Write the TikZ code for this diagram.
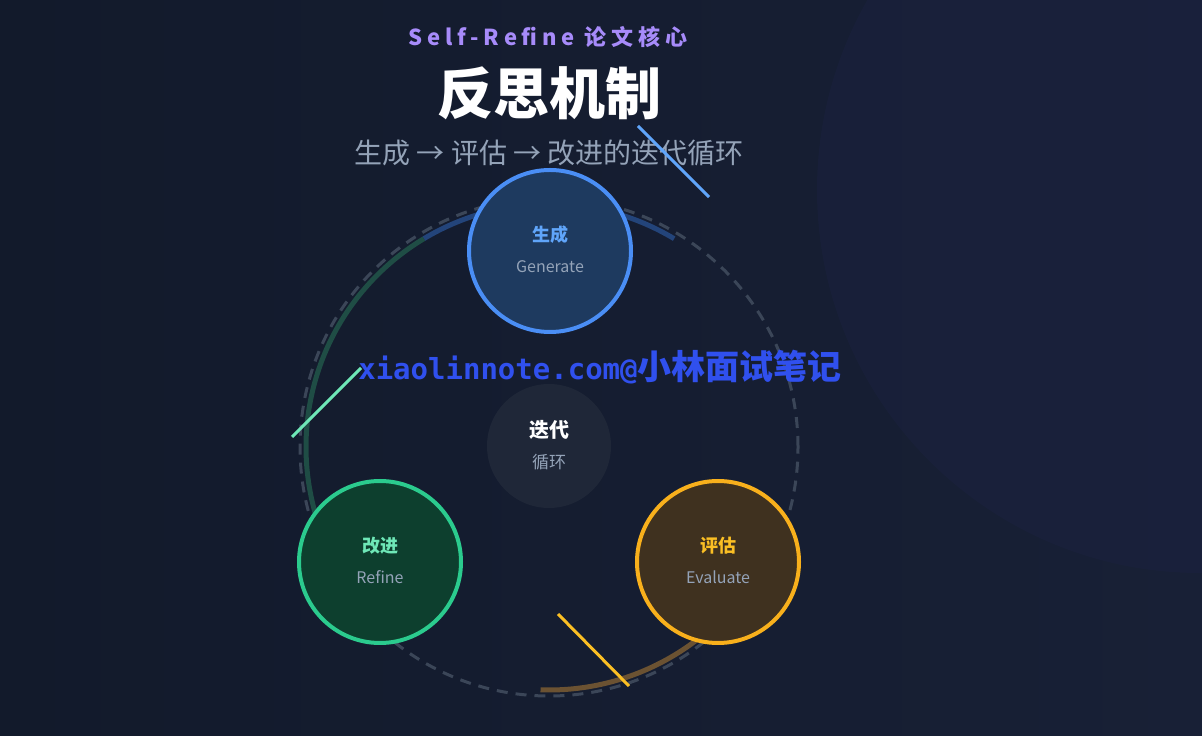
\documentclass[tikz,border=0pt]{standalone}
\usepackage{fontspec}
\setmainfont{Noto Sans CJK SC}
\newfontfamily\spacedfont{Noto Sans CJK SC}[LetterSpace=22]
\newfontfamily\wmfont{DejaVu Sans Mono}
\usetikzlibrary{positioning}

\definecolor{bgdark}{HTML}{121A2B}
\definecolor{bglight}{HTML}{182036}
\definecolor{glowc}{HTML}{1C2242}
\definecolor{kickc}{HTML}{A78BFA}
\definecolor{mutedc}{HTML}{94A3B8}
\definecolor{ringc}{HTML}{3B4658}
\definecolor{genc}{HTML}{60A5FA}
\definecolor{gendraw}{HTML}{4A8EF5}
\definecolor{genfill}{HTML}{1E3A5F}
\definecolor{refc}{HTML}{6EE7B7}
\definecolor{refdraw}{HTML}{2BCB8E}
\definecolor{reffill}{HTML}{0D3F2E}
\definecolor{evac}{HTML}{FBBF24}
\definecolor{evadraw}{HTML}{F8B01C}
\definecolor{evafill}{HTML}{3F311F}
\definecolor{hubfill}{HTML}{1F2738}
\definecolor{arcblue}{HTML}{23447A}
\definecolor{arcgreen}{HTML}{1F4D45}
\definecolor{arcbrown}{HTML}{6B5232}
\definecolor{wmblue}{HTML}{3050EE}

\begin{document}
\begin{tikzpicture}[x=1pt, y=1pt,
    stage/.style = {draw, circle, line width=4pt, minimum size=162pt, inner sep=0pt},
    hub/.style = {circle, fill=hubfill, minimum size=124pt, inner sep=0pt},
    headtxt/.style = {inner sep=0pt, font=\fontsize{18}{20}\selectfont\bfseries},
    subtxt/.style = {inner sep=0pt, text=mutedc, font=\fontsize{16}{19}\selectfont},
    ring/.style = {ringc, line width=3pt, dash pattern=on 11pt off 8pt},
    trail/.style = {line width=5pt},
    tick/.style = {line width=3pt}]
    \useasboundingbox (0,0) rectangle (1202,736);
    \clip (0,0) rectangle (1202,736);
    \shade[left color=bgdark, right color=bglight] (0,0) rectangle (1202,736);
    \fill[glowc, opacity=0.45] (1200,546) circle[radius=383];

    \node[inner sep=0pt, text=kickc, font=\spacedfont\bfseries\fontsize{22}{26}\selectfont] (kicker) at (548,699) {Self-Refine 论文核心};
    \node[inner sep=0pt, text=white, font=\bfseries\fontsize{56}{60}\selectfont] (title) at (549,643) {反思机制};
    \node[inner sep=0pt, text=mutedc, font=\fontsize{28}{32}\selectfont] (tagline) at (549,583) {生成 → 评估 → 改进的迭代循环};

    \coordinate (ctr) at (549,289);
    \draw[ring] (ctr) circle[radius=249];
    \draw[trail, arcblue] ([shift={(59:243)}]ctr) arc[start angle=59, end angle=121, radius=243];
    \draw[trail, arcgreen] ([shift={(121:243)}]ctr) arc[start angle=121, end angle=215, radius=243];
    \draw[trail, arcbrown] ([shift={(268:243)}]ctr) arc[start angle=268, end angle=330, radius=243];

    \node[hub] (hub) at (549,290) {};
    \node[headtxt, text=white, font=\fontsize{20}{22}\selectfont\bfseries] (hubname) at ([yshift=16]hub.center) {迭代};
    \node[subtxt, font=\fontsize{17}{20}\selectfont] (hubsub) at ([yshift=-16]hub.center) {循环};

    \node[stage, draw=gendraw, fill=genfill] (gen) at (550,485) {};
    \node[headtxt, text=genc] (genname) at ([yshift=16]gen.center) {生成};
    \node[subtxt] (gensub) at ([yshift=-16]gen.center) {Generate};

    \node[stage, draw=refdraw, fill=reffill] (refine) at (380,174) {};
    \node[headtxt, text=refc] (refname) at ([yshift=16]refine.center) {改进};
    \node[subtxt] (refsub) at ([yshift=-15]refine.center) {Refine};

    \node[stage, draw=evadraw, fill=evafill] (eval) at (718,174) {};
    \node[headtxt, text=evac] (evaname) at ([yshift=16]eval.center) {评估};
    \node[subtxt] (evasub) at ([yshift=-15]eval.center) {Evaluate};

    \draw[tick, genc] (638,610) -- (709,539);
    \draw[tick, refc] (361,368) -- (292,299);
    \draw[tick, evac] (558,122) -- (629,50);

    \node[inner sep=0pt, text=wmblue, font=\bfseries] (wm) at (600,369) {{\wmfont\fontsize{29}{34}\selectfont xiaolinnote.com@}{\fontsize{34}{38}\selectfont 小林面试笔记}};
\end{tikzpicture}
\end{document}
